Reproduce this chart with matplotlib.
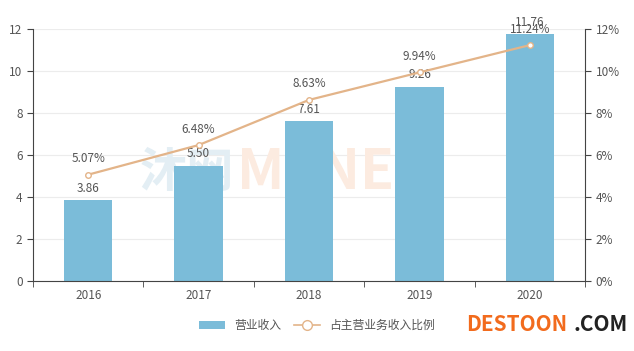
import numpy as np
import matplotlib.pyplot as plt
from matplotlib.lines import Line2D
from matplotlib.patches import Patch

plt.rcParams['font.family'] = ['Noto Sans CJK SC', 'DejaVu Sans']

years = ['2016', '2017', '2018', '2019', '2020']
revenue = [3.86, 5.50, 7.61, 9.26, 11.76]
ratio = [5.07, 6.48, 8.63, 9.94, 11.24]
left_ticks = [0, 2, 4, 6, 8, 10, 12]
right_ticks = [0, 2, 4, 6, 8, 10, 12]

bar_color = '#7bbcd9'
line_color = '#e3b489'
text_color = '#555555'
axis_color = '#444444'

fig = plt.figure(figsize=(6.34, 3.51), dpi=100)
ax = fig.add_axes([0.052, 0.199, 0.871, 0.718])
ax2 = ax.twinx()

# faint watermark behind the bars
ax.text(0.365, 0.43, '沐网', transform=ax.transAxes, fontsize=34, fontweight='bold',
        color='#e3eef4', ha='right', va='center', zorder=1)
ax.text(0.37, 0.43, 'MENET', transform=ax.transAxes, fontsize=40, fontweight='bold',
        color='#fcebe0', ha='left', va='center', zorder=1)

x = np.arange(len(years))
ax.bar(x, revenue, width=0.44, color=bar_color, zorder=2)
for xi, v in zip(x, revenue):
    ax.text(xi, v + 0.25, f'{v:.2f}', ha='center', va='bottom', fontsize=8.5,
            color=text_color, zorder=4)

ax.set_xlim(-0.5, len(years) - 0.5)
ax.set_ylim(0, 12)
ax.set_yticks(left_ticks)
ax.set_xticks(x)
ax.set_xticklabels(years)
ax.set_xticks(np.arange(-0.5, len(years), 1), minor=True)
ax.tick_params(axis='x', which='major', length=0, labelsize=8.5, colors=text_color, pad=6)
ax.tick_params(axis='x', which='minor', length=4, color=axis_color)
ax.tick_params(axis='y', labelsize=8.5, colors=text_color, length=4)
ax.tick_params(axis='y', color=axis_color)
ax.grid(axis='y', color='#ececec', linewidth=0.8, zorder=0)
ax.set_axisbelow(True)
for s in ['top', 'right']:
    ax.spines[s].set_visible(False)
ax.spines['left'].set_color(axis_color)
ax.spines['bottom'].set_color(axis_color)

ax2.plot(x, ratio, color=line_color, linewidth=1.6, marker='o', markersize=4,
         markerfacecolor='white', markeredgecolor=line_color, markeredgewidth=1, zorder=3)
for xi, v in zip(x, ratio):
    ax2.text(xi, v + 0.45, f'{v:.2f}%', ha='center', va='bottom', fontsize=8.5, color=text_color)
ax2.set_ylim(0, 12)
ax2.set_yticks(right_ticks)
ax2.set_yticklabels([f'{t}%' for t in right_ticks])
ax2.tick_params(axis='y', labelsize=8.5, colors=text_color, length=4)
ax2.tick_params(axis='y', color=axis_color)
for s in ['top', 'left', 'bottom']:
    ax2.spines[s].set_visible(False)
ax2.spines['right'].set_color(axis_color)

handles = [Patch(facecolor=bar_color, edgecolor='none'),
           Line2D([0], [0], color=line_color, linewidth=1.2, marker='o', markersize=7,
                  markerfacecolor='white', markeredgecolor=line_color)]
fig.legend(handles, ['营业收入', '占主营业务收入比例'], loc='center', bbox_to_anchor=(0.5, 0.073),
           ncol=2, frameon=False, fontsize=8.5, handlelength=2.2, columnspacing=1.0,
           labelcolor=text_color)

fig.text(0.735, 0.075, 'DESTOON', fontsize=15, fontweight='bold', color='#f26b1d',
         ha='left', va='center')
fig.text(0.905, 0.075, '.COM', fontsize=15, fontweight='bold', color='#222222',
         ha='left', va='center')

fig.savefig('out.png', dpi=100)
